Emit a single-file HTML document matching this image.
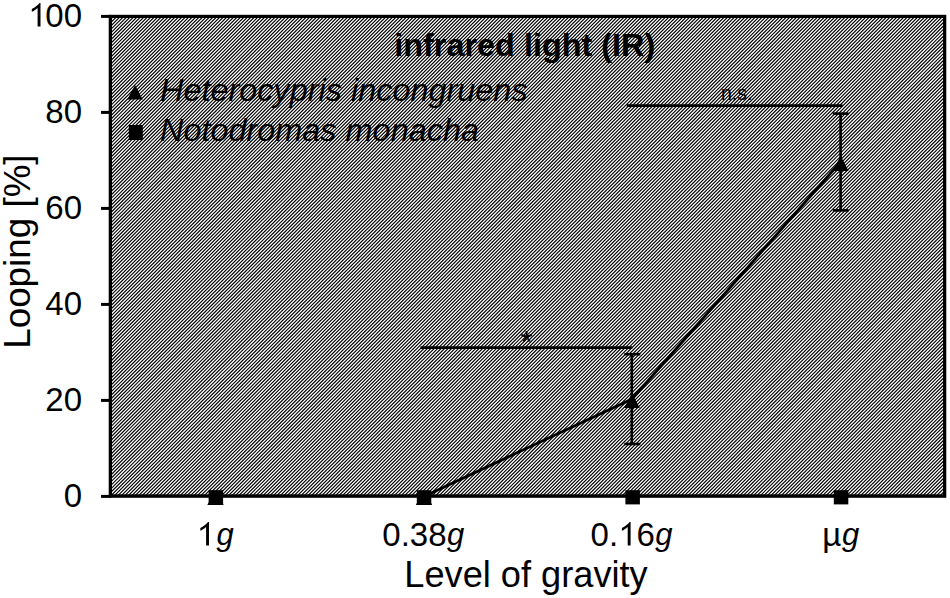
<!DOCTYPE html>
<html><head><meta charset="utf-8">
<style>
html,body{margin:0;padding:0;background:#fff;width:950px;height:598px;overflow:hidden}
svg{display:block}
text{font-family:"Liberation Sans",sans-serif;fill:#000}
</style></head>
<body>
<svg width="950" height="598" viewBox="0 0 950 598">
<defs>
<path id="one" d="M763 0L583 0L583 1147C519 1086 434 1024 330 963C275 931 246 918 224 910L224 1084C340 1138 441 1204 528 1282C614 1360 675 1423 704 1466L763 1466Z"/>
<clipPath id="c"><rect x="111.9" y="18" width="831.2" height="476.6"/></clipPath>
</defs>
<rect x="110.3" y="16.4" width="834.4" height="479.8" fill="#000"/>
<path clip-path="url(#c)" stroke="#fff" stroke-width="1.270" fill="none" d="M-371.27 496l479 -479M-367.82 496l479 -479M-364.37 496l479 -479M-360.91 496l479 -479M-357.46 496l479 -479M-354.00 496l479 -479M-350.55 496l479 -479M-347.09 496l479 -479M-343.64 496l479 -479M-340.18 496l479 -479M-336.73 496l479 -479M-333.28 496l479 -479M-329.82 496l479 -479M-326.37 496l479 -479M-322.91 496l479 -479M-319.46 496l479 -479M-316.00 496l479 -479M-312.55 496l479 -479M-309.09 496l479 -479M-305.64 496l479 -479M-302.19 496l479 -479M-298.73 496l479 -479M-295.28 496l479 -479M-291.82 496l479 -479M-288.37 496l479 -479M-284.91 496l479 -479M-281.46 496l479 -479M-278.01 496l479 -479M-274.55 496l479 -479M-271.10 496l479 -479M-267.64 496l479 -479M-264.19 496l479 -479M-260.73 496l479 -479M-257.28 496l479 -479M-253.82 496l479 -479M-250.37 496l479 -479M-246.92 496l479 -479M-243.46 496l479 -479M-240.01 496l479 -479M-236.55 496l479 -479M-233.10 496l479 -479M-229.64 496l479 -479M-226.19 496l479 -479M-222.73 496l479 -479M-219.28 496l479 -479M-215.83 496l479 -479M-212.37 496l479 -479M-208.92 496l479 -479M-205.46 496l479 -479M-202.01 496l479 -479M-198.55 496l479 -479M-195.10 496l479 -479M-191.65 496l479 -479M-188.19 496l479 -479M-184.74 496l479 -479M-181.28 496l479 -479M-177.83 496l479 -479M-174.37 496l479 -479M-170.92 496l479 -479M-167.46 496l479 -479M-164.01 496l479 -479M-160.56 496l479 -479M-157.10 496l479 -479M-153.65 496l479 -479M-150.19 496l479 -479M-146.74 496l479 -479M-143.28 496l479 -479M-139.83 496l479 -479M-136.37 496l479 -479M-132.92 496l479 -479M-129.47 496l479 -479M-126.01 496l479 -479M-122.56 496l479 -479M-119.10 496l479 -479M-115.65 496l479 -479M-112.19 496l479 -479M-108.74 496l479 -479M-105.29 496l479 -479M-101.83 496l479 -479M-98.38 496l479 -479M-94.92 496l479 -479M-91.47 496l479 -479M-88.01 496l479 -479M-84.56 496l479 -479M-81.10 496l479 -479M-77.65 496l479 -479M-74.20 496l479 -479M-70.74 496l479 -479M-67.29 496l479 -479M-63.83 496l479 -479M-60.38 496l479 -479M-56.92 496l479 -479M-53.47 496l479 -479M-50.01 496l479 -479M-46.56 496l479 -479M-43.11 496l479 -479M-39.65 496l479 -479M-36.20 496l479 -479M-32.74 496l479 -479M-29.29 496l479 -479M-25.83 496l479 -479M-22.38 496l479 -479M-18.93 496l479 -479M-15.47 496l479 -479M-12.02 496l479 -479M-8.56 496l479 -479M-5.11 496l479 -479M-1.65 496l479 -479M1.80 496l479 -479M5.26 496l479 -479M8.71 496l479 -479M12.16 496l479 -479M15.62 496l479 -479M19.07 496l479 -479M22.53 496l479 -479M25.98 496l479 -479M29.44 496l479 -479M32.89 496l479 -479M36.35 496l479 -479M39.80 496l479 -479M43.25 496l479 -479M46.71 496l479 -479M50.16 496l479 -479M53.62 496l479 -479M57.07 496l479 -479M60.53 496l479 -479M63.98 496l479 -479M67.43 496l479 -479M70.89 496l479 -479M74.34 496l479 -479M77.80 496l479 -479M81.25 496l479 -479M84.71 496l479 -479M88.16 496l479 -479M91.62 496l479 -479M95.07 496l479 -479M98.52 496l479 -479M101.98 496l479 -479M105.43 496l479 -479M108.89 496l479 -479M112.34 496l479 -479M115.80 496l479 -479M119.25 496l479 -479M122.71 496l479 -479M126.16 496l479 -479M129.61 496l479 -479M133.07 496l479 -479M136.52 496l479 -479M139.98 496l479 -479M143.43 496l479 -479M146.89 496l479 -479M150.34 496l479 -479M153.79 496l479 -479M157.25 496l479 -479M160.70 496l479 -479M164.16 496l479 -479M167.61 496l479 -479M171.07 496l479 -479M174.52 496l479 -479M177.98 496l479 -479M181.43 496l479 -479M184.88 496l479 -479M188.34 496l479 -479M191.79 496l479 -479M195.25 496l479 -479M198.70 496l479 -479M202.16 496l479 -479M205.61 496l479 -479M209.07 496l479 -479M212.52 496l479 -479M215.97 496l479 -479M219.43 496l479 -479M222.88 496l479 -479M226.34 496l479 -479M229.79 496l479 -479M233.25 496l479 -479M236.70 496l479 -479M240.15 496l479 -479M243.61 496l479 -479M247.06 496l479 -479M250.52 496l479 -479M253.97 496l479 -479M257.43 496l479 -479M260.88 496l479 -479M264.34 496l479 -479M267.79 496l479 -479M271.24 496l479 -479M274.70 496l479 -479M278.15 496l479 -479M281.61 496l479 -479M285.06 496l479 -479M288.52 496l479 -479M291.97 496l479 -479M295.43 496l479 -479M298.88 496l479 -479M302.33 496l479 -479M305.79 496l479 -479M309.24 496l479 -479M312.70 496l479 -479M316.15 496l479 -479M319.61 496l479 -479M323.06 496l479 -479M326.51 496l479 -479M329.97 496l479 -479M333.42 496l479 -479M336.88 496l479 -479M340.33 496l479 -479M343.79 496l479 -479M347.24 496l479 -479M350.70 496l479 -479M354.15 496l479 -479M357.60 496l479 -479M361.06 496l479 -479M364.51 496l479 -479M367.97 496l479 -479M371.42 496l479 -479M374.88 496l479 -479M378.33 496l479 -479M381.79 496l479 -479M385.24 496l479 -479M388.69 496l479 -479M392.15 496l479 -479M395.60 496l479 -479M399.06 496l479 -479M402.51 496l479 -479M405.97 496l479 -479M409.42 496l479 -479M412.87 496l479 -479M416.33 496l479 -479M419.78 496l479 -479M423.24 496l479 -479M426.69 496l479 -479M430.15 496l479 -479M433.60 496l479 -479M437.06 496l479 -479M440.51 496l479 -479M443.96 496l479 -479M447.42 496l479 -479M450.87 496l479 -479M454.33 496l479 -479M457.78 496l479 -479M461.24 496l479 -479M464.69 496l479 -479M468.15 496l479 -479M471.60 496l479 -479M475.05 496l479 -479M478.51 496l479 -479M481.96 496l479 -479M485.42 496l479 -479M488.87 496l479 -479M492.33 496l479 -479M495.78 496l479 -479M499.23 496l479 -479M502.69 496l479 -479M506.14 496l479 -479M509.60 496l479 -479M513.05 496l479 -479M516.51 496l479 -479M519.96 496l479 -479M523.42 496l479 -479M526.87 496l479 -479M530.32 496l479 -479M533.78 496l479 -479M537.23 496l479 -479M540.69 496l479 -479M544.14 496l479 -479M547.60 496l479 -479M551.05 496l479 -479M554.51 496l479 -479M557.96 496l479 -479M561.41 496l479 -479M564.87 496l479 -479M568.32 496l479 -479M571.78 496l479 -479M575.23 496l479 -479M578.69 496l479 -479M582.14 496l479 -479M585.59 496l479 -479M589.05 496l479 -479M592.50 496l479 -479M595.96 496l479 -479M599.41 496l479 -479M602.87 496l479 -479M606.32 496l479 -479M609.78 496l479 -479M613.23 496l479 -479M616.68 496l479 -479M620.14 496l479 -479M623.59 496l479 -479M627.05 496l479 -479M630.50 496l479 -479M633.96 496l479 -479M637.41 496l479 -479M640.87 496l479 -479M644.32 496l479 -479M647.77 496l479 -479M651.23 496l479 -479M654.68 496l479 -479M658.14 496l479 -479M661.59 496l479 -479M665.05 496l479 -479M668.50 496l479 -479M671.95 496l479 -479M675.41 496l479 -479M678.86 496l479 -479M682.32 496l479 -479M685.77 496l479 -479M689.23 496l479 -479M692.68 496l479 -479M696.14 496l479 -479M699.59 496l479 -479M703.04 496l479 -479M706.50 496l479 -479M709.95 496l479 -479M713.41 496l479 -479M716.86 496l479 -479M720.32 496l479 -479M723.77 496l479 -479M727.23 496l479 -479M730.68 496l479 -479M734.13 496l479 -479M737.59 496l479 -479M741.04 496l479 -479M744.50 496l479 -479M747.95 496l479 -479M751.41 496l479 -479M754.86 496l479 -479M758.31 496l479 -479M761.77 496l479 -479M765.22 496l479 -479M768.68 496l479 -479M772.13 496l479 -479M775.59 496l479 -479M779.04 496l479 -479M782.50 496l479 -479M785.95 496l479 -479M789.40 496l479 -479M792.86 496l479 -479M796.31 496l479 -479M799.77 496l479 -479M803.22 496l479 -479M806.68 496l479 -479M810.13 496l479 -479M813.59 496l479 -479M817.04 496l479 -479M820.49 496l479 -479M823.95 496l479 -479M827.40 496l479 -479M830.86 496l479 -479M834.31 496l479 -479M837.77 496l479 -479M841.22 496l479 -479M844.67 496l479 -479M848.13 496l479 -479M851.58 496l479 -479M855.04 496l479 -479M858.49 496l479 -479M861.95 496l479 -479M865.40 496l479 -479M868.86 496l479 -479M872.31 496l479 -479M875.76 496l479 -479M879.22 496l479 -479M882.67 496l479 -479M886.13 496l479 -479M889.58 496l479 -479M893.04 496l479 -479M896.49 496l479 -479M899.95 496l479 -479M903.40 496l479 -479M906.85 496l479 -479M910.31 496l479 -479M913.76 496l479 -479M917.22 496l479 -479M920.67 496l479 -479M924.13 496l479 -479M927.58 496l479 -479M931.03 496l479 -479M934.49 496l479 -479M937.94 496l479 -479M941.40 496l479 -479M944.85 496l479 -479"/>
<rect x="110.3" y="16.4" width="834.4" height="479.8" fill="none" stroke="#000" stroke-width="3.2"/>
<!-- y ticks -->
<g stroke="#000" stroke-width="3">
<line x1="101" y1="16.4" x2="111" y2="16.4"/>
<line x1="101" y1="112.4" x2="111" y2="112.4"/>
<line x1="101" y1="208.4" x2="111" y2="208.4"/>
<line x1="101" y1="304.4" x2="111" y2="304.4"/>
<line x1="101" y1="400.4" x2="111" y2="400.4"/>
<line x1="101" y1="496.4" x2="111" y2="496.4"/>
</g>
<g font-size="33" text-anchor="end">
<text x="82" y="26.5">00</text>
<text x="82" y="122.5">80</text>
<text x="82" y="218.5">60</text>
<text x="82" y="314.5">40</text>
<text x="82" y="410.5">20</text>
<text x="82" y="506.5">0</text>
</g>
<g font-size="33" text-anchor="middle">
<text x="382.3" y="545.5" text-anchor="start">0.38</text>
<text x="590.6" y="545.5" text-anchor="start">0.</text><text x="636.47" y="545.5" text-anchor="start">6</text>
<text x="822.3" y="545.5" text-anchor="start">µ</text>
</g>
<g font-size="31" font-style="italic">
<text x="216.6" y="544.8">g</text><text x="447" y="544.8">g</text><text x="655.3" y="544.8">g</text><text x="842.1" y="544.8">g</text>
</g>
<text x="526" y="587" font-size="36.2" text-anchor="middle">Level of gravity</text>
<text transform="translate(30,251.6) rotate(-90)" font-size="36.8" text-anchor="middle">Looping [%]</text>
<text transform="translate(524.75,55.8) scale(1.06,1)" font-size="30.6" font-weight="bold" text-anchor="middle">infrared light (IR)</text>
<g fill="#000"><use href="#one" transform="translate(28.20,26.50) scale(0.016113,-0.016113)"/><use href="#one" transform="translate(196.70,545.50) scale(0.016113,-0.016113)"/><use href="#one" transform="translate(618.30,545.50) scale(0.016113,-0.016113)"/></g>
<!-- legend -->
<polygon points="135,85 127.3,99.6 142.8,99.6" fill="#000"/>
<rect x="128.8" y="125" width="14" height="15" fill="#000"/>
<g font-size="30.6" font-style="italic">
<text transform="translate(160,101.2) scale(1.06,1)">Heterocypris incongruens</text>
<text transform="translate(160,141.1) scale(1.06,1)">Notodromas monacha</text>
</g>
<!-- data line -->
<polyline points="424,496.4 632,399 840.5,162" fill="none" stroke="#000" stroke-width="2.8"/>
<!-- error bars -->
<g stroke="#000" stroke-width="2.6" fill="none">
<line x1="631.8" y1="354.2" x2="631.8" y2="444"/>
<line x1="624.3" y1="354.2" x2="640.3" y2="354.2"/>
<line x1="624.3" y1="444" x2="640.3" y2="444"/>
<line x1="840.6" y1="113.6" x2="840.6" y2="210.4"/>
<line x1="832.8" y1="113.6" x2="848.5" y2="113.6"/>
<line x1="832.8" y1="210.4" x2="848.5" y2="210.4"/>
</g>
<!-- triangles -->
<g fill="#000">
<polygon points="215.5,490.2 207.3,504.9 223.7,504.9"/>
<polygon points="424,490.2 415.8,504.9 432.2,504.9"/>
<polygon points="632,393.3 624.2,407.9 639.8,407.9"/>
<polygon points="840.6,155.8 832.8,170.9 848.6,170.9"/>
</g>
<!-- squares -->
<g fill="#000">
<rect x="208.6" y="490.2" width="14.5" height="14.2"/>
<rect x="416.8" y="490.2" width="14.5" height="14.2"/>
<rect x="625.4" y="490.2" width="14.5" height="14.2"/>
<rect x="833.8" y="490.2" width="14.5" height="14.2"/>
</g>
<!-- significance -->
<g stroke="#000" stroke-width="2.7">
<line x1="420.5" y1="347.7" x2="632.3" y2="347.7"/>
<line x1="626.8" y1="105.6" x2="842.5" y2="105.6"/>
</g>
<text x="520.4" y="352.8" font-size="30.8">*</text>
<text x="721" y="100.3" font-size="19.5">n.s.</text>
</svg>
</body></html>
